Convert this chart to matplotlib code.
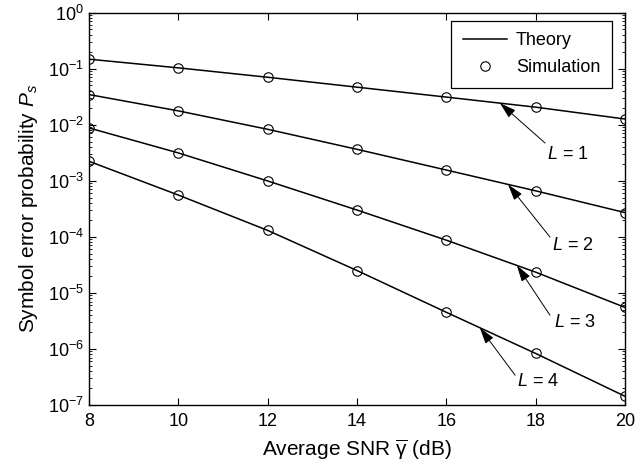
import numpy as np
import matplotlib
matplotlib.use("Agg")
import matplotlib.pyplot as plt
from matplotlib.ticker import LogLocator, NullFormatter, FixedLocator

plt.rcParams['font.family'] = ['Liberation Sans', 'DejaVu Sans']
plt.rcParams['mathtext.fontset'] = 'custom'
plt.rcParams['mathtext.rm'] = 'Liberation Sans'
plt.rcParams['mathtext.it'] = 'Liberation Sans:italic'
plt.rcParams['mathtext.bf'] = 'Liberation Sans:bold'

snr_db = [8, 10, 12, 14, 16, 18, 20]
ps_L1 = [0.147, 0.103, 0.070, 0.0466, 0.031, 0.0205, 0.0126]
ps_L2 = [0.0344, 0.0176, 0.00826, 0.00363, 0.00155, 0.00066, 0.00027]
ps_L3 = [0.00873, 0.00313, 0.00099, 0.000300, 8.7e-5, 2.34e-5, 5.5e-6]
ps_L4 = [0.00222, 5.55e-4, 1.30e-4, 2.5e-5, 4.5e-6, 8.3e-7, 1.43e-7]
series = [ps_L1, ps_L2, ps_L3, ps_L4]
labels = ["1", "2", "3", "4"]
# annotation positions: arrow tip x, arrow tail (x, y), label (x, y)
ann_tip_x = [17.20, 17.38, 17.58, 16.75]
ann_tail = [(18.21, 4.7e-3), (18.32, 9.9e-5), (18.32, 4.0e-6), (17.54, 3.4e-7)]
ann_text = [(18.72, 2.9e-3), (18.84, 7.1e-5), (18.88, 3.0e-6), (18.05, 2.6e-7)]

fig = plt.figure(figsize=(6.41, 4.66), dpi=100)
ax = fig.add_axes([89/641, 1-405/466, 536/641, (405-12.5)/466])

for i, s in enumerate(series):
    ax.semilogy(snr_db, s, '-', color='black', lw=1.1,
                label='Theory' if i == 0 else None)
    ax.semilogy(snr_db, s, 'o', mfc='none', mec='black', ms=6.8, mew=0.8,
                label='Simulation' if i == 0 else None)

for i, s in enumerate(series):
    tx = ann_tip_x[i]
    ty = 10 ** np.interp(tx, snr_db, np.log10(s))
    ax.annotate('', xy=(tx, ty), xytext=ann_tail[i],
                arrowprops=dict(arrowstyle='-|>,head_length=1.0,head_width=0.3',
                                color='black', lw=0.7, shrinkA=0, shrinkB=0))
    ax.text(ann_text[i][0], ann_text[i][1], r'$L$ = ' + labels[i],
            fontsize=13, ha='center', va='center')

ax.set_xlim(8, 20)
ax.set_ylim(1e-7, 1e0)
ax.xaxis.set_major_locator(FixedLocator(snr_db))
ax.yaxis.set_major_locator(LogLocator(base=10, numticks=20))
ax.yaxis.set_minor_locator(LogLocator(base=10, subs=np.arange(2, 10), numticks=20))
ax.yaxis.set_minor_formatter(NullFormatter())
ax.tick_params(which='both', direction='in', top=True, right=True, labelsize=13)
ax.tick_params(axis='x', which='major', pad=6)
ax.tick_params(which='major', length=5, width=0.8)
ax.tick_params(which='minor', length=2.5, width=0.6)
for sp in ax.spines.values():
    sp.set_linewidth(1.0)

ax.set_xlabel(r'Average SNR $\overline{\mathrm{\gamma}}$ (dB)', fontsize=15, labelpad=5)
ax.set_ylabel(r'Symbol error probability $P_s$', fontsize=15, labelpad=6)

leg = ax.legend(loc='upper right', bbox_to_anchor=((612-89)/536, (405-20.5)/392.5),
                borderaxespad=0, fontsize=13, fancybox=False, framealpha=1,
                edgecolor='black', handlelength=2.45, handletextpad=0.5,
                labelspacing=0.55, borderpad=0.65)
leg.get_frame().set_linewidth(0.9)

fig.savefig('out.png', dpi=100)
